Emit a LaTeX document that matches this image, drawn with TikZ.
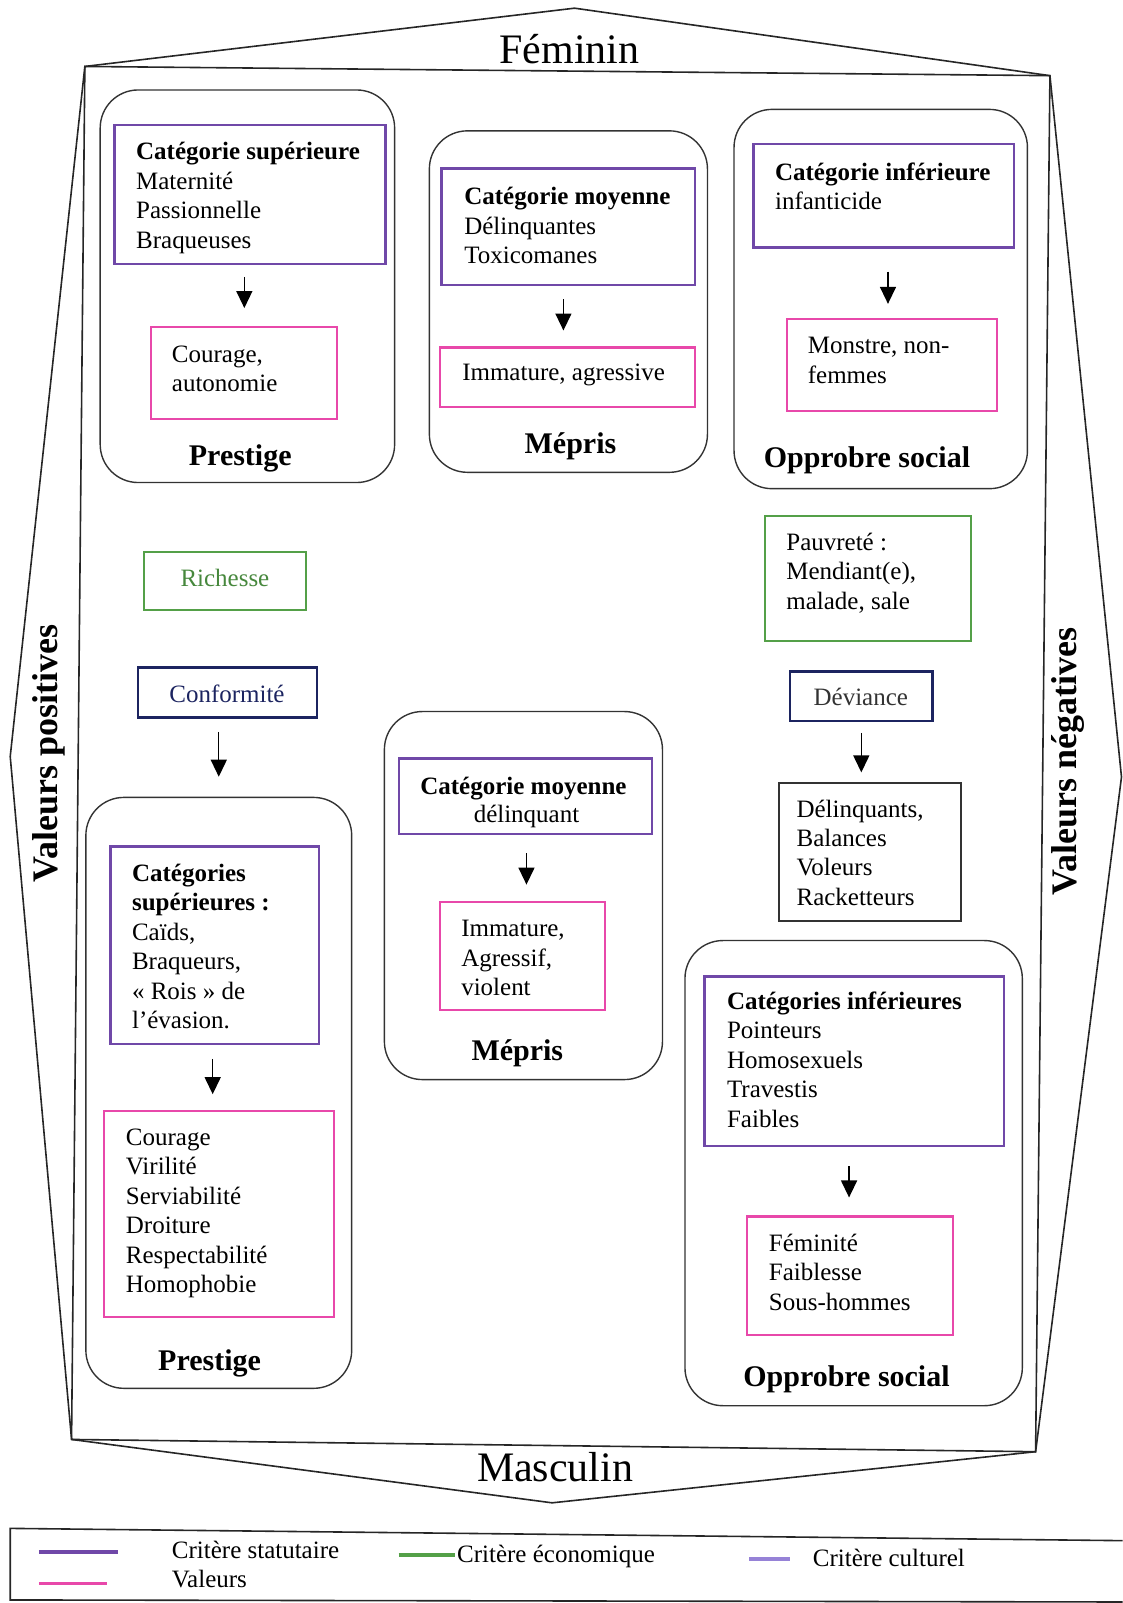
\documentclass[tikz,border=0pt]{standalone}
\usepackage{fontspec}
\setmainfont{Liberation Serif}
\usetikzlibrary{arrows.meta,fit}
\definecolor{cpurple}{RGB}{112,72,168}
\definecolor{cpink}{RGB}{232,72,170}
\definecolor{cgreen}{RGB}{84,160,72}
\definecolor{cnavy}{RGB}{28,36,96}
\definecolor{clilac}{RGB}{150,130,215}
\newcommand{\tstrut}{\rule{0pt}{24pt}}
\newcommand{\bodyfont}{\fontsize{25}{29.5}\selectfont}
\begin{document}
\begin{tikzpicture}[x=1.0228pt,y=-1.0228pt,
  hexline/.style={draw=black!85, line width=1.6pt, line join=miter},
  rbox/.style={draw=black!80, line width=1.4pt, rounded corners=38pt, inner sep=0pt},
  pbox/.style={draw=cpurple, line width=2.4pt, inner sep=0pt},
  valbox/.style={draw=cpink, line width=2.2pt, inner sep=0pt},
  gbox/.style={draw=cgreen, line width=2.2pt, inner sep=0pt},
  nbox/.style={draw=cnavy, line width=2.4pt, inner sep=0pt},
  kbox/.style={draw=black!80, line width=1.4pt, inner sep=0pt},
  txt/.style={anchor=north west, inner sep=0pt, align=left, font=\bodyfont},
  ctxt/.style={anchor=base, inner sep=0pt, font=\bodyfont},
  lab/.style={anchor=base, inner sep=0pt, font=\fontsize{30}{34}\selectfont\bfseries},
  big/.style={anchor=base, inner sep=0pt, font=\fontsize{42}{46}\selectfont},
  side/.style={inner sep=0pt, rotate=90, font=\fontsize{36}{40}\selectfont\bfseries},
  legtxt/.style={anchor=base west, inner sep=0pt, font=\bodyfont},
  legline/.style={line width=3.2pt},
  arr/.style={draw=black, line width=1.4pt, -{Triangle[length=17pt,width=16pt]}},
]
\useasboundingbox (0,0) rectangle (1098,1568);

% outer frame
\coordinate (TL) at (83,65);
\coordinate (TR) at (1027,74);
\coordinate (BR) at (1013,1420);
\coordinate (BL) at (70,1408);
\coordinate (TA) at (562,8);
\coordinate (RA) at (1097,760);
\coordinate (BA) at (540,1470);
\coordinate (LA) at (10,740);
\draw[hexline] (TL) -- (TA) -- (TR) -- (RA) -- (BR) -- (BA) -- (BL) -- (LA) -- cycle;
\draw[hexline] (TL) -- (TR) -- (BR) -- (BL) -- cycle;

\node[big] (fem) at (557,62) {Féminin};
\node[big] (masc) at (543,1449) {Masculin};
\node[side] (vpos) at (48,737) {Valeurs positives};
\node[side] (vneg) at (1045,745) {Valeurs négatives};

% rounded groups
\node[rbox, fit={(98,88) (386,472)}] (r1) {};
\node[rbox, fit={(420,128) (692,462)}] (r2) {};
\node[rbox, fit={(718,107) (1005,478)}] (r3) {};
\node[rbox, fit={(84,780) (344,1358)}] (r4) {};
\node[rbox, fit={(376,696) (648,1056)}] (r5) {};
\node[rbox, fit={(670,920) (1000,1375)}] (r6) {};

% top-left group
\node[pbox, fit={(112,122) (377,258)}] (p1) {};
\node[txt] (t1) at (133,132.5) {\tstrut\textbf{Catégorie supérieure}\\Maternité\\Passionnelle\\Braqueuses};
\node[valbox, fit={(148,320) (330,410)}] (v1) {};
\node[txt] (u1) at (168,330.5) {\tstrut Courage,\\autonomie};
\node[lab] (l1) at (235,455) {Prestige};
\draw[arr, shorten <=12pt, shorten >=18pt] (p1.south -| v1.north) -- (v1.north);

% top-middle group
\node[pbox, fit={(432,165) (680,279)}] (p2) {};
\node[txt] (t2) at (454,176.5) {\tstrut\textbf{Catégorie moyenne}\\Délinquantes\\Toxicomanes};
\node[valbox, fit={(430,340) (680,398)}] (v2) {};
\node[txt] (u2) at (452,348.5) {\tstrut Immature, agressive};
\node[lab] (l2) at (558,444) {Mépris};
\draw[arr, shorten <=13pt, shorten >=16pt] ([xshift=-5pt]p2.south) -- ([xshift=-5pt]p2.south |- v2.north);

% top-right group
\node[pbox, fit={(737,141) (992,242)}] (p3) {};
\node[txt] (t3) at (758,152.5) {\tstrut\textbf{Catégorie inférieure}\\infanticide};
\node[valbox, fit={(770,312) (975,402)}] (v3) {};
\node[txt] (u3) at (790,322.5) {\tstrut Monstre, non-\\femmes};
\node[lab] (l3) at (848,457) {Opprobre social};
\draw[arr, shorten <=23pt, shorten >=14pt] ([xshift=-4pt]v3.north |- p3.south) -- ([xshift=-4pt]v3.north);

% left middle
\node[gbox, fit={(141,540) (299,597)}] (rich) {};
\node[ctxt, text=cgreen!85!black] (richt) at (220,574) {Richesse};
\node[nbox, fit={(135,653) (310,702)}] (conf) {};
\node[ctxt, text=cnavy] (conft) at (222,687) {Conformité};
\draw[arr, shorten <=13pt, shorten >=20pt] (conf.south -| r4.north) -- (r4.north);

% right middle
\node[gbox, fit={(748,505) (950,627)}] (pauv) {};
\node[txt] (pauvt) at (769,514.5) {\tstrut Pauvreté :\\Mendiant(e),\\malade, sale};
\node[nbox, fit={(773,657) (912,705)}] (dev) {};
\node[ctxt, text=black!80] (devt) at (842,690) {Déviance};
\node[kbox, fit={(762,766) (940,901)}] (delq) {};
\node[txt] (delqt) at (779,775.5) {\tstrut Délinquants,\\Balances\\Voleurs\\Racketteurs};
\draw[arr, shorten <=11pt, shorten >=10pt] (dev.south) -- (dev.south |- delq.north);

% middle lower group
\node[pbox, fit={(390,742) (638,816)}] (p5) {};
\node[ctxt] (t5a) at (512,777) {\textbf{Catégorie moyenne}};
\node[ctxt] (t5b) at (515,805) {délinquant};
\node[valbox, fit={(430,882) (592,988)}] (v5) {};
\node[txt] (u5) at (451,892.5) {\tstrut Immature,\\Agressif,\\violent};
\node[lab] (l5) at (506,1037) {Mépris};
\draw[arr, shorten <=18pt, shorten >=16pt] ([xshift=1pt]p5.south) -- ([xshift=1pt]p5.south |- v5.north);

% lower-left group
\node[pbox, fit={(108,828) (312,1021)}] (p4) {};
\node[txt] (t4) at (129,838.5) {\tstrut\textbf{Catégories}\\\textbf{supérieures :}\\Caïds,\\Braqueurs,\\« Rois » de\\l’évasion.};
\node[valbox, fit={(102,1087) (327,1288)}] (v4) {};
\node[txt] (u4) at (123,1096.5) {\tstrut Courage\\Virilité\\Serviabilité\\Droiture\\Respectabilité\\Homophobie};
\node[lab] (l4) at (205,1341) {Prestige};
\draw[arr, shorten <=14pt, shorten >=16pt] ([xshift=-2pt]p4.south) -- ([xshift=-2pt]p4.south |- v4.north);

% lower-right group
\node[pbox, fit={(689,955) (982,1121)}] (p6) {};
\node[txt] (t6) at (711,963.5) {\tstrut\textbf{Catégories inférieures}\\Pointeurs\\Homosexuels\\Travestis\\Faibles};
\node[valbox, fit={(731,1190) (932,1306)}] (v6) {};
\node[txt] (u6) at (752,1200.5) {\tstrut Féminité\\Faiblesse\\Sous-hommes};
\node[lab] (l6) at (828,1356) {Opprobre social};
\draw[arr, shorten <=19pt, shorten >=18pt] ([xshift=-1pt]v6.north |- p6.south) -- ([xshift=-1pt]v6.north);

% legend
\coordinate (LG1) at (1098,1507);
\coordinate (LG2) at (10,1495);
\coordinate (LG3) at (10,1565);
\coordinate (LG4) at (1098,1567);
\draw[line width=1.6pt, black!85] (LG1) -- (LG2) -- (LG3) -- (LG4);
\coordinate (ls1) at (38,1518); \coordinate (le1) at (115,1518);
\coordinate (ls2) at (38,1549); \coordinate (le2) at (105,1549);
\coordinate (ls3) at (390,1521); \coordinate (le3) at (445,1521);
\coordinate (ls4) at (733,1525); \coordinate (le4) at (773,1525);
\draw[legline, cpurple] (ls1) -- (le1);
\draw[legline, cpink] (ls2) -- (le2);
\draw[legline, cgreen] (ls3) -- (le3);
\draw[legline, clilac] (ls4) -- (le4);
\node[legtxt] (lt1) at (168,1524) {Critère statutaire};
\node[legtxt] (lt2) at (168,1553) {Valeurs};
\node[legtxt] (lt3) at (447,1528) {Critère économique};
\node[legtxt] (lt4) at (795,1532) {Critère culturel};
\end{tikzpicture}
\end{document}
